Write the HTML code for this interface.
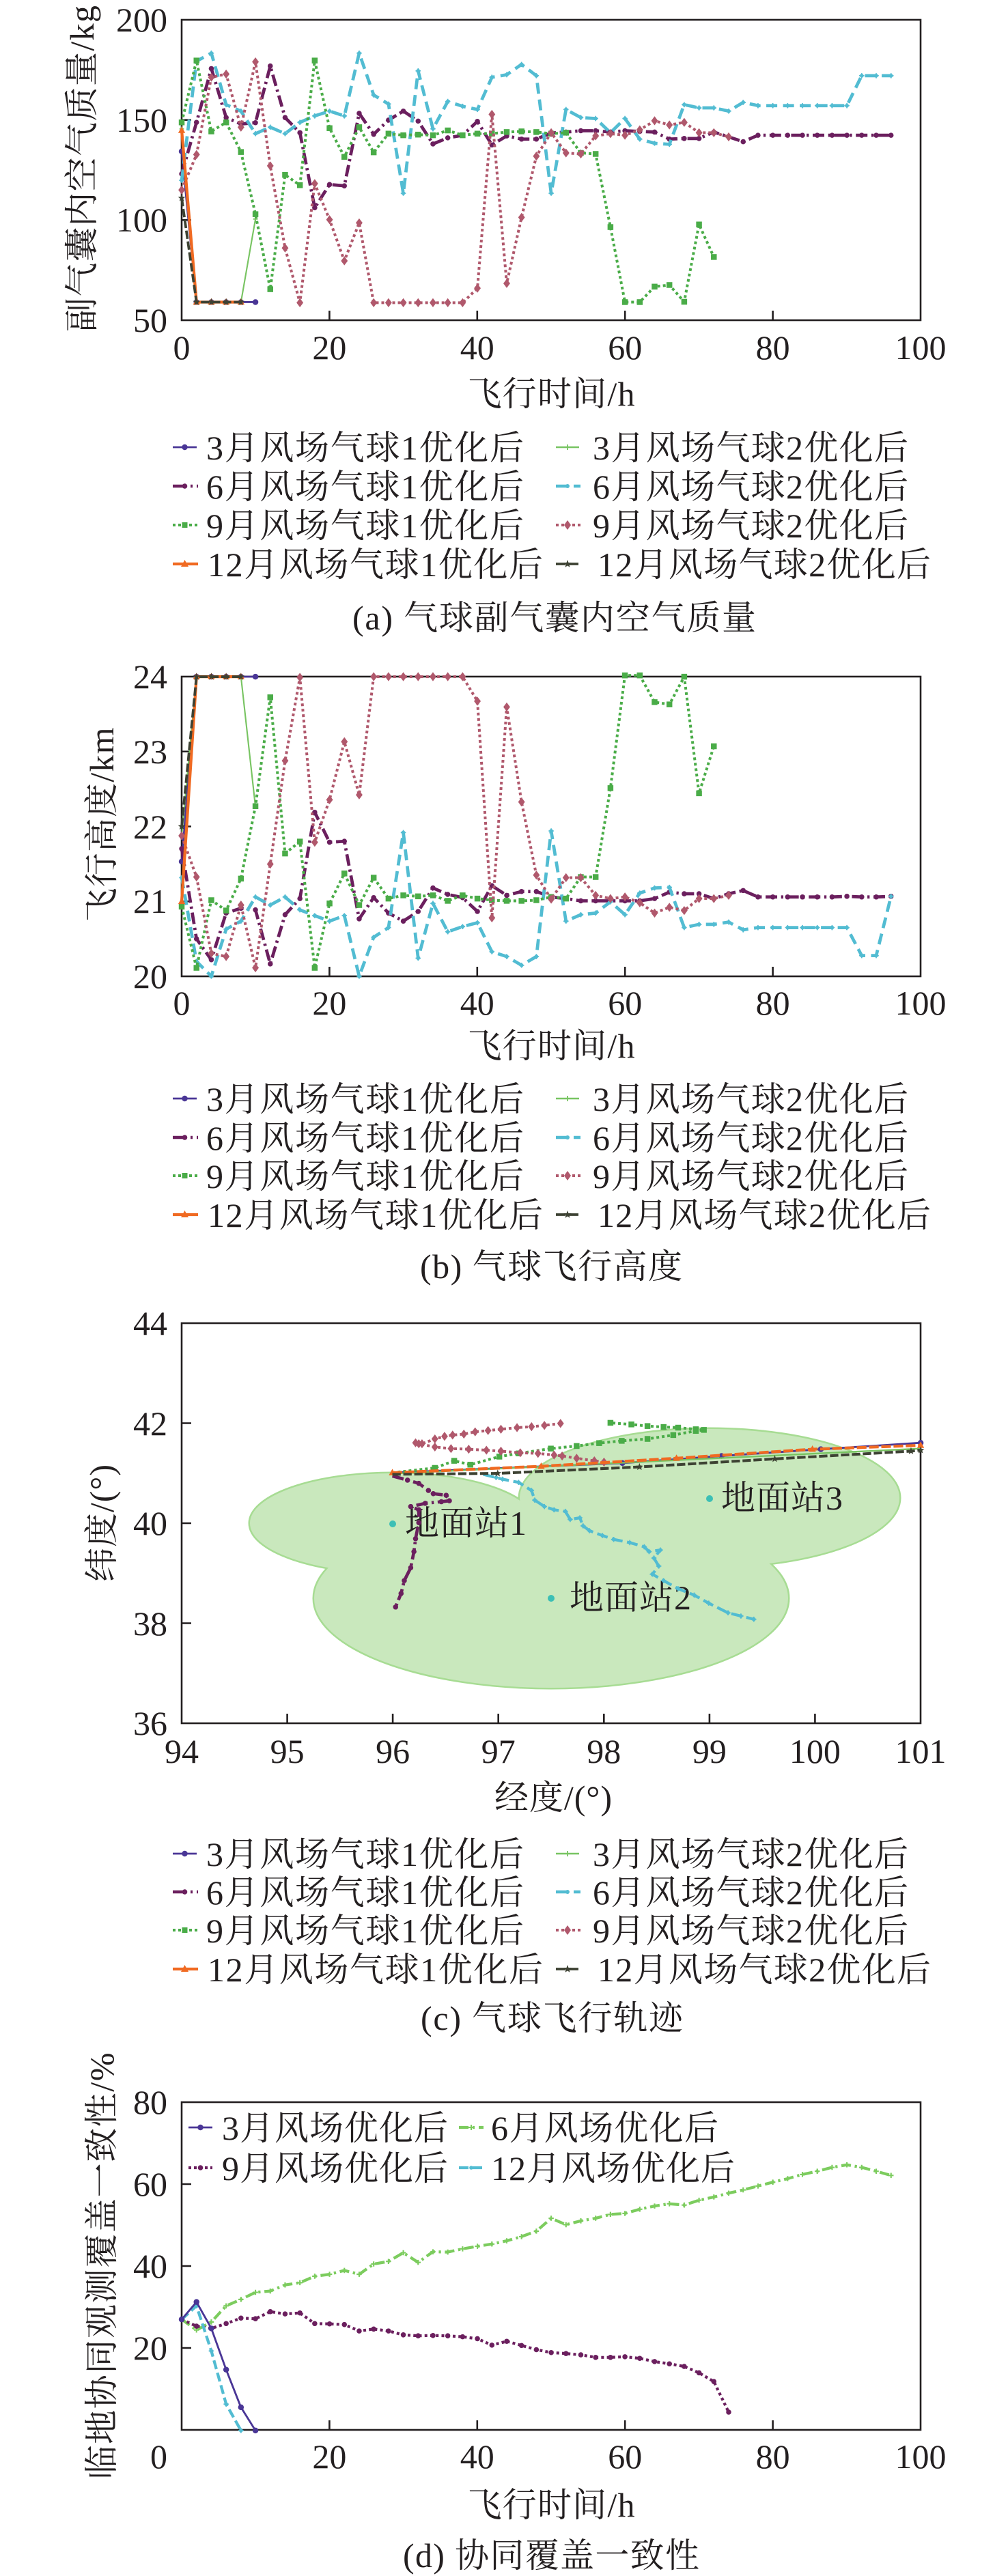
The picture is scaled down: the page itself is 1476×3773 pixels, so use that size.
<!DOCTYPE html>
<html><head><meta charset="utf-8"><style>
html,body{margin:0;padding:0;background:#fff;}
svg{display:block;}
text{font-family:"Liberation Serif","Noto Serif CJK SC",serif;font-size:50px;fill:#231f20;}
</style></head><body>
<svg width="1476" height="3773" viewBox="0 0 1476 3773" xmlns="http://www.w3.org/2000/svg">
<defs>
<marker id="mC1" markerUnits="userSpaceOnUse" markerWidth="24" markerHeight="24" refX="0" refY="0" viewBox="-12 -12 24 24" overflow="visible"><circle r="9" fill="#4a3696"/></marker>
<marker id="mP2" markerUnits="userSpaceOnUse" markerWidth="24" markerHeight="24" refX="0" refY="0" viewBox="-12 -12 24 24" overflow="visible"><path d="M-7 0H7M0 -7V7" stroke="#78c462" stroke-width="4"/></marker>
<marker id="mPd" markerUnits="userSpaceOnUse" markerWidth="24" markerHeight="24" refX="0" refY="0" viewBox="-12 -12 24 24" overflow="visible"><path d="M-8 0H8M0 -8V8" stroke="#7ccc5e" stroke-width="4.5"/></marker>
<marker id="mC6" markerUnits="userSpaceOnUse" markerWidth="24" markerHeight="24" refX="0" refY="0" viewBox="-12 -12 24 24" overflow="visible"><circle r="8" fill="#6b1f5e"/></marker>
<marker id="mA6" markerUnits="userSpaceOnUse" markerWidth="24" markerHeight="24" refX="0" refY="0" viewBox="-12 -12 24 24" overflow="visible"><circle r="6" fill="#52bcd2"/><path d="M-8 0H8M0 -8V8" stroke="#52bcd2" stroke-width="3.5"/></marker>
<marker id="mS9" markerUnits="userSpaceOnUse" markerWidth="24" markerHeight="24" refX="0" refY="0" viewBox="-12 -12 24 24" overflow="visible"><rect x="-9" y="-9" width="18" height="18" fill="#4aac48"/></marker>
<marker id="mD9" markerUnits="userSpaceOnUse" markerWidth="30" markerHeight="30" refX="0" refY="0" viewBox="-15 -15 30 30" overflow="visible"><path d="M0 -14L10.5 0L0 14L-10.5 0Z" fill="#b0586c"/></marker>
<marker id="mT12" markerUnits="userSpaceOnUse" markerWidth="30" markerHeight="30" refX="0" refY="0" viewBox="-15 -15 30 30" overflow="visible"><path d="M0 -12L11 8L-11 8Z" fill="#f06a22"/></marker>
<marker id="mSt" markerUnits="userSpaceOnUse" markerWidth="30" markerHeight="30" refX="0" refY="0" viewBox="-15 -15 30 30" overflow="visible"><path d="M0,-12 L2.94,-4.05 L11.41,-3.71 L4.76,1.55 L7.05,9.71 L0,5 L-7.05,9.71 L-4.76,1.55 L-11.41,-3.71 L-2.94,-4.05Z" fill="#3d4233"/></marker>
</defs>

<!-- ================= PANEL A ================= -->
<g stroke="#231f20" stroke-width="2.6" fill="none">
<rect x="266" y="29" width="1082" height="440"/>
<path d="M266 175.7H280M266 322.3H280M482.4 469V455M698.8 469V455M915.2 469V455M1131.6 469V455"/>
</g>
<g text-anchor="end">
<text x="245" y="46">200</text><text x="245" y="193">150</text><text x="245" y="339">100</text><text x="245" y="486">50</text>
</g>
<g text-anchor="middle">
<text x="266" y="526">0</text><text x="482.4" y="526">20</text><text x="698.8" y="526">40</text><text x="915.2" y="526">60</text><text x="1131.6" y="526">80</text><text x="1348" y="526">100</text>
<text x="807" y="594" textLength="245" lengthAdjust="spacing">飞行时间/h</text>
</g>
<text transform="translate(137,247) rotate(-90)" text-anchor="middle" textLength="478" lengthAdjust="spacing">副气囊内空气质量/kg</text>

<g transform="scale(0.4717)" fill="none" stroke-linejoin="round">
<polyline points="564,470 610,938 656,938 702,938 748,938 793,938" stroke="#4a3696" stroke-width="6" marker-start="url(#mC1)" marker-mid="url(#mC1)" marker-end="url(#mC1)"/>
<polyline points="564,400 610,938 656,938 702,938 748,938 793,680" stroke="#78c462" stroke-width="4.5" marker-start="url(#mP2)" marker-mid="url(#mP2)" marker-end="url(#mP2)"/>
<polyline points="564,540 610,380 656,213 702,365 748,385 793,381 839,205 885,365 931,412 977,645 1023,573 1069,577 1115,352 1160,417 1206,373 1252,345 1298,376 1344,447 1390,428 1436,420 1482,377 1527,450 1573,422 1619,432 1665,432 1711,413 1757,410 1803,406 1849,406 1895,410 1940,406 1986,408 2032,410 2078,432 2124,430 2170,430 2216,410 2262,425 2307,440 2353,420 2399,420 2445,420 2491,420 2537,420 2583,420 2629,420 2675,420 2720,420 2766,420" stroke="#6b1f5e" stroke-width="10" stroke-dasharray="36 12 7 12" marker-start="url(#mC6)" marker-mid="url(#mC6)" marker-end="url(#mC6)"/>
<polyline points="564,560 610,190 656,165 702,325 748,345 793,415 839,395 885,415 931,380 977,360 1023,345 1069,360 1115,165 1160,295 1206,323 1252,600 1298,220 1344,400 1390,315 1436,330 1482,340 1527,240 1573,232 1619,200 1665,235 1711,600 1757,340 1803,365 1849,368 1895,412 1940,368 1986,432 2032,445 2078,448 2124,325 2170,335 2216,335 2262,345 2307,318 2353,328 2399,328 2445,328 2491,328 2537,328 2583,328 2629,328 2675,235 2720,235 2766,235" stroke="#52bcd2" stroke-width="10" stroke-dasharray="34 18" marker-start="url(#mA6)" marker-mid="url(#mA6)" marker-end="url(#mA6)"/>
<polyline points="564,380 610,188 656,408 702,380 748,472 793,665 839,898 885,543 931,575 977,188 1023,398 1069,487 1115,395 1160,473 1206,415 1252,420 1298,418 1344,420 1390,405 1436,420 1482,415 1527,415 1573,410 1619,408 1665,410 1711,415 1757,412 1803,475 1849,478 1895,705 1940,938 1986,938 2032,890 2078,885 2124,937 2170,697 2216,798" stroke="#4aac48" stroke-width="8.5" stroke-dasharray="8.5 8.5" marker-start="url(#mS9)" marker-mid="url(#mS9)" marker-end="url(#mS9)"/>
<polyline points="564,590 610,480 656,240 702,230 748,395 793,192 839,515 885,770 931,940 977,570 1023,682 1069,810 1115,692 1160,940 1206,940 1252,940 1298,940 1344,940 1390,940 1436,940 1482,895 1527,355 1573,880 1619,675 1665,485 1711,412 1757,475 1803,478 1849,422 1895,415 1940,420 1986,403 2032,375 2078,388 2124,380 2170,412 2216,412 2262,425" stroke="#b0586c" stroke-width="8.5" stroke-dasharray="8.5 8.5" marker-start="url(#mD9)" marker-mid="url(#mD9)" marker-end="url(#mD9)"/>
<polyline points="564,405 610,938 656,938 702,938 748,938" stroke="#f06a22" stroke-width="9" marker-start="url(#mT12)" marker-mid="url(#mT12)" marker-end="url(#mT12)"/>
<polyline points="564,615 610,938 656,938 702,938 748,938" stroke="#3d4233" stroke-width="8" stroke-dasharray="26 8" marker-start="url(#mSt)" marker-mid="url(#mSt)" marker-end="url(#mSt)"/>
</g>

<!-- legend A -->
<g>
<line x1="253" x2="288" y1="655" y2="655" stroke="#4a3696" stroke-width="2.8"/><circle cx="270.5" cy="655" r="4.2" fill="#4a3696"/>
<line x1="814" x2="848" y1="655" y2="655" stroke="#78c462" stroke-width="2.4"/><path d="M827 655H835M831 651V659" stroke="#78c462" stroke-width="1.8"/>
<line x1="253" x2="290" y1="712" y2="712" stroke="#6b1f5e" stroke-width="4.5" stroke-dasharray="20 6 3 6"/><circle cx="270.5" cy="712" r="3.8" fill="#6b1f5e"/>
<line x1="814" x2="850" y1="712" y2="712" stroke="#52bcd2" stroke-width="4.5" stroke-dasharray="18 8"/><circle cx="831" cy="712" r="3" fill="#52bcd2"/>
<line x1="253" x2="290" y1="769" y2="769" stroke="#4aac48" stroke-width="4" stroke-dasharray="4 4"/><rect x="266.5" y="765" width="8" height="8" fill="#4aac48"/>
<line x1="814" x2="850" y1="769" y2="769" stroke="#b0586c" stroke-width="4" stroke-dasharray="4 4"/><path d="M831 762L836 769L831 776L826 769Z" fill="#b0586c"/>
<line x1="253" x2="290" y1="826" y2="826" stroke="#f06a22" stroke-width="4.2"/><path d="M270.5 820L276 830L265 830Z" fill="#f06a22"/>
<line x1="814" x2="850" y1="826" y2="826" stroke="#3d4233" stroke-width="3.8" stroke-dasharray="14 5"/><path transform="translate(831,826) scale(0.5)" d="M0,-12 L2.94,-4.05 L11.41,-3.71 L4.76,1.55 L7.05,9.71 L0,5 L-7.05,9.71 L-4.76,1.55 L-11.41,-3.71 L-2.94,-4.05Z" fill="#3d4233"/>
</g>
<text x="302" y="673" textLength="465" lengthAdjust="spacing">3月风场气球1优化后</text>
<text x="868" y="673" textLength="462" lengthAdjust="spacing">3月风场气球2优化后</text>
<text x="302" y="730" textLength="465" lengthAdjust="spacing">6月风场气球1优化后</text>
<text x="868" y="730" textLength="462" lengthAdjust="spacing">6月风场气球2优化后</text>
<text x="302" y="787" textLength="465" lengthAdjust="spacing">9月风场气球1优化后</text>
<text x="868" y="787" textLength="462" lengthAdjust="spacing">9月风场气球2优化后</text>
<text x="304" y="844" textLength="491" lengthAdjust="spacing">12月风场气球1优化后</text>
<text x="875" y="844" textLength="488" lengthAdjust="spacing">12月风场气球2优化后</text>
<text x="516" y="922" textLength="591" lengthAdjust="spacing">(a) 气球副气囊内空气质量</text>

<!-- ================= PANEL B ================= -->
<g stroke="#231f20" stroke-width="2.6" fill="none">
<rect x="266" y="991" width="1082" height="439"/>
<path d="M266 1100.75H280M266 1210.5H280M266 1320.25H280M482.4 1430V1416M698.8 1430V1416M915.2 1430V1416M1131.6 1430V1416"/>
</g>
<g text-anchor="end">
<text x="245" y="1008">24</text><text x="245" y="1118">23</text><text x="245" y="1228">22</text><text x="245" y="1337">21</text><text x="245" y="1447">20</text>
</g>
<g text-anchor="middle">
<text x="266" y="1486">0</text><text x="482.4" y="1486">20</text><text x="698.8" y="1486">40</text><text x="915.2" y="1486">60</text><text x="1131.6" y="1486">80</text><text x="1348" y="1486">100</text>
<text x="807" y="1549" textLength="245" lengthAdjust="spacing">飞行时间/h</text>
</g>
<text transform="translate(166,1208) rotate(-90)" text-anchor="middle" textLength="285" lengthAdjust="spacing">飞行高度/km</text>

<g transform="translate(0,960) scale(0.4717)" fill="none" stroke-linejoin="round">
<polyline points="564,640 610,66 656,66 702,66 748,66 793,66" stroke="#4a3696" stroke-width="6" marker-start="url(#mC1)" marker-mid="url(#mC1)" marker-end="url(#mC1)"/>
<polyline points="564,560 610,66 656,66 702,66 748,66 793,470" stroke="#78c462" stroke-width="4.5" marker-start="url(#mP2)" marker-mid="url(#mP2)" marker-end="url(#mP2)"/>
<polyline points="564,600 610,880 656,945 702,800 748,785 793,790 839,958 885,805 931,755 977,487 1023,580 1069,577 1115,818 1160,752 1206,800 1252,825 1298,795 1344,722 1390,742 1436,752 1482,795 1527,715 1573,745 1619,733 1665,733 1711,750 1757,755 1803,762 1849,762 1895,762 1940,762 1986,762 2032,755 2078,735 2124,740 2170,740 2216,755 2262,740 2307,730 2353,750 2399,750 2445,750 2491,750 2537,750 2583,750 2629,748 2675,750 2720,750 2766,748" stroke="#6b1f5e" stroke-width="10" stroke-dasharray="36 12 7 12" marker-start="url(#mC6)" marker-mid="url(#mC6)" marker-end="url(#mC6)"/>
<polyline points="564,690 610,950 656,996 702,850 748,825 793,750 839,775 885,750 931,790 977,808 1023,825 1069,808 1115,996 1160,875 1206,845 1252,550 1298,940 1344,770 1390,858 1436,842 1482,830 1527,920 1573,935 1619,962 1665,935 1711,545 1757,825 1803,805 1849,800 1895,765 1940,805 1986,738 2032,722 2078,720 2124,845 2170,835 2216,835 2262,828 2307,852 2353,845 2399,845 2445,845 2491,845 2537,845 2583,845 2629,845 2675,932 2720,932 2766,748" stroke="#52bcd2" stroke-width="10" stroke-dasharray="34 18" marker-start="url(#mA6)" marker-mid="url(#mA6)" marker-end="url(#mA6)"/>
<polyline points="564,780 610,970 656,760 702,792 748,693 793,468 839,130 885,615 931,578 977,970 1023,770 1069,677 1115,775 1160,690 1206,755 1252,745 1298,748 1344,745 1390,762 1436,745 1482,755 1527,760 1573,762 1619,762 1665,760 1711,750 1757,755 1803,688 1849,688 1895,412 1940,62 1986,62 2032,145 2078,152 2124,66 2170,428 2216,282" stroke="#4aac48" stroke-width="8.5" stroke-dasharray="8.5 8.5" marker-start="url(#mS9)" marker-mid="url(#mS9)" marker-end="url(#mS9)"/>
<polyline points="564,560 610,688 656,925 702,935 748,775 793,970 839,648 885,327 931,68 977,580 1023,448 1069,268 1115,433 1160,66 1206,66 1252,66 1298,66 1344,66 1390,66 1436,66 1482,142 1527,815 1573,160 1619,455 1665,682 1711,757 1757,690 1803,690 1849,745 1895,755 1940,750 1986,768 2032,800 2078,782 2124,792 2170,755 2216,755 2262,745" stroke="#b0586c" stroke-width="8.5" stroke-dasharray="8.5 8.5" marker-start="url(#mD9)" marker-mid="url(#mD9)" marker-end="url(#mD9)"/>
<polyline points="564,764 610,66 656,66 702,66 748,66" stroke="#f06a22" stroke-width="9" marker-start="url(#mT12)" marker-mid="url(#mT12)" marker-end="url(#mT12)"/>
<polyline points="564,531 610,66 656,66 702,66 748,66" stroke="#3d4233" stroke-width="8" stroke-dasharray="26 8" marker-start="url(#mSt)" marker-mid="url(#mSt)" marker-end="url(#mSt)"/>
</g>

<!-- legend B -->
<g>
<line x1="253" x2="288" y1="1609" y2="1609" stroke="#4a3696" stroke-width="2.8"/><circle cx="270.5" cy="1609" r="4.2" fill="#4a3696"/>
<line x1="814" x2="848" y1="1609" y2="1609" stroke="#78c462" stroke-width="2.4"/><path d="M827 1609H835M831 1605V1613" stroke="#78c462" stroke-width="1.8"/>
<line x1="253" x2="290" y1="1666" y2="1666" stroke="#6b1f5e" stroke-width="4.5" stroke-dasharray="20 6 3 6"/><circle cx="270.5" cy="1666" r="3.8" fill="#6b1f5e"/>
<line x1="814" x2="850" y1="1666" y2="1666" stroke="#52bcd2" stroke-width="4.5" stroke-dasharray="18 8"/><circle cx="831" cy="1666" r="3" fill="#52bcd2"/>
<line x1="253" x2="290" y1="1722" y2="1722" stroke="#4aac48" stroke-width="4" stroke-dasharray="4 4"/><rect x="266.5" y="1718" width="8" height="8" fill="#4aac48"/>
<line x1="814" x2="850" y1="1722" y2="1722" stroke="#b0586c" stroke-width="4" stroke-dasharray="4 4"/><path d="M831 1715L836 1722L831 1729L826 1722Z" fill="#b0586c"/>
<line x1="253" x2="290" y1="1779" y2="1779" stroke="#f06a22" stroke-width="4.2"/><path d="M270.5 1773L276 1783L265 1783Z" fill="#f06a22"/>
<line x1="814" x2="850" y1="1779" y2="1779" stroke="#3d4233" stroke-width="3.8" stroke-dasharray="14 5"/><path transform="translate(831,1779) scale(0.5)" d="M0,-12 L2.94,-4.05 L11.41,-3.71 L4.76,1.55 L7.05,9.71 L0,5 L-7.05,9.71 L-4.76,1.55 L-11.41,-3.71 L-2.94,-4.05Z" fill="#3d4233"/>
</g>
<text x="302" y="1627" textLength="465" lengthAdjust="spacing">3月风场气球1优化后</text>
<text x="868" y="1627" textLength="462" lengthAdjust="spacing">3月风场气球2优化后</text>
<text x="302" y="1684" textLength="465" lengthAdjust="spacing">6月风场气球1优化后</text>
<text x="868" y="1684" textLength="462" lengthAdjust="spacing">6月风场气球2优化后</text>
<text x="302" y="1740" textLength="465" lengthAdjust="spacing">9月风场气球1优化后</text>
<text x="868" y="1740" textLength="462" lengthAdjust="spacing">9月风场气球2优化后</text>
<text x="304" y="1797" textLength="491" lengthAdjust="spacing">12月风场气球1优化后</text>
<text x="875" y="1797" textLength="488" lengthAdjust="spacing">12月风场气球2优化后</text>
<text x="807" y="1872" text-anchor="middle" textLength="384" lengthAdjust="spacing">(b) 气球飞行高度</text>

<!-- ================= PANEL C ================= -->
<g stroke="#a7dc93" stroke-width="5" fill="#c9e8bd">
<ellipse cx="575" cy="2231" rx="209" ry="73"/>
<ellipse cx="807" cy="2341" rx="347" ry="131"/>
<ellipse cx="1039" cy="2194" rx="278" ry="101"/>
</g>
<g fill="#c9e8bd">
<ellipse cx="575" cy="2231" rx="209" ry="73"/>
<ellipse cx="807" cy="2341" rx="347" ry="131"/>
<ellipse cx="1039" cy="2194" rx="278" ry="101"/>
</g>
<g stroke="#231f20" stroke-width="2.6" fill="none">
<rect x="266" y="1938" width="1082" height="586"/>
<path d="M266 2084.5H280M266 2231H280M266 2377.5H280M420.6 2524V2510M575.1 2524V2510M729.7 2524V2510M884.3 2524V2510M1038.9 2524V2510M1193.4 2524V2510"/>
</g>
<g text-anchor="end">
<text x="245" y="1955">44</text><text x="245" y="2102">42</text><text x="245" y="2248">40</text><text x="245" y="2395">38</text><text x="245" y="2541">36</text>
</g>
<g text-anchor="middle">
<text x="266" y="2582">94</text><text x="420.6" y="2582">95</text><text x="575.1" y="2582">96</text><text x="729.7" y="2582">97</text><text x="884.3" y="2582">98</text><text x="1038.9" y="2582">99</text><text x="1193.4" y="2582">100</text><text x="1348" y="2582">101</text>
<text x="810" y="2650" textLength="172" lengthAdjust="spacing">经度/(°)</text>
</g>
<text transform="translate(166,2231) rotate(-90)" text-anchor="middle" textLength="172" lengthAdjust="spacing">纬度/(°)</text>

<g fill="#3cbfb5"><circle cx="575" cy="2232" r="5"/><circle cx="807" cy="2341" r="5"/><circle cx="1039" cy="2195" r="5"/></g>
<text x="593" y="2248" textLength="178" lengthAdjust="spacing">地面站1</text>
<text x="834" y="2357" textLength="178" lengthAdjust="spacing">地面站2</text>
<text x="1056" y="2211" textLength="178" lengthAdjust="spacing">地面站3</text>

<g transform="translate(0,1900) scale(0.4717)" fill="none" stroke-linejoin="round">
<polyline points="1218,545 1932,515 2240,493 2548,472 2858,452" stroke="#4a3696" stroke-width="6" marker-mid="url(#mC1)" marker-end="url(#mC1)"/>
<polyline points="1218,548 2858,470" stroke="#78c462" stroke-width="5"/>
<polyline points="1218,555 1265,568 1300,578 1330,600 1345,610 1385,615 1395,632 1370,635 1320,640 1275,650 1300,660 1300,700 1290,750 1285,790 1275,840 1255,880 1245,920 1228,962" stroke="#6b1f5e" stroke-width="10" stroke-dasharray="36 12 7 12" marker-mid="url(#mC6)" marker-end="url(#mC6)"/>
<polyline points="1500,550 1540,560 1560,565 1610,575 1650,600 1660,630 1690,650 1720,660 1755,665 1770,690 1800,685 1810,710 1830,725 1870,740 1905,752 1955,762 2000,775 2015,790 2050,785 2030,810 2045,835 2025,860 2060,880 2105,905 2155,925 2200,950 2260,980 2300,990 2340,1000" stroke="#52bcd2" stroke-width="9" stroke-dasharray="34 14" marker-mid="url(#mA6)" marker-end="url(#mA6)"/>
<polyline points="1218,545 1350,530 1410,508 1460,520 1550,495 1610,485 1710,470 1790,462 1860,453 1930,446 2010,440 2090,428 2160,415 2185,412 2160,410 2105,405 2060,403 2010,400 1960,395 1895,390" stroke="#4aac48" stroke-width="8.5" stroke-dasharray="8.5 8.5" marker-mid="url(#mS9)" marker-end="url(#mS9)"/>
<polyline points="1740,392 1690,398 1650,402 1605,405 1555,410 1515,414 1475,418 1440,425 1405,428 1380,432 1350,440 1310,455 1290,452 1300,455 1350,465 1400,470 1455,472 1510,475 1555,478 1615,483 1670,485 1720,490 1745,493 1790,500 1845,508 1875,512" stroke="#b0586c" stroke-width="8.5" stroke-dasharray="8.5 8.5" marker-start="url(#mD9)" marker-mid="url(#mD9)" marker-end="url(#mD9)"/>
<polyline points="1218,545 1680,525 2100,500 2522,472 2858,460" stroke="#f06a22" stroke-width="9" stroke-dasharray="30 8" marker-start="url(#mT12)" marker-mid="url(#mT12)" marker-end="url(#mT12)"/>
<polyline points="1218,550 1545,547 1985,527 2405,502 2828,478 2858,475" stroke="#3d4233" stroke-width="8.5" stroke-dasharray="26 8" marker-mid="url(#mSt)" marker-end="url(#mSt)"/>
</g>

<!-- legend C -->
<g>
<line x1="253" x2="288" y1="2715" y2="2715" stroke="#4a3696" stroke-width="2.8"/><circle cx="270.5" cy="2715" r="4.2" fill="#4a3696"/>
<line x1="814" x2="848" y1="2715" y2="2715" stroke="#78c462" stroke-width="2.4"/><path d="M827 2715H835M831 2711V2719" stroke="#78c462" stroke-width="1.8"/>
<line x1="253" x2="290" y1="2771" y2="2771" stroke="#6b1f5e" stroke-width="4.5" stroke-dasharray="20 6 3 6"/><circle cx="270.5" cy="2771" r="3.8" fill="#6b1f5e"/>
<line x1="814" x2="850" y1="2771" y2="2771" stroke="#52bcd2" stroke-width="4.5" stroke-dasharray="18 8"/><circle cx="831" cy="2771" r="3" fill="#52bcd2"/>
<line x1="253" x2="290" y1="2827" y2="2827" stroke="#4aac48" stroke-width="4" stroke-dasharray="4 4"/><rect x="266.5" y="2823" width="8" height="8" fill="#4aac48"/>
<line x1="814" x2="850" y1="2827" y2="2827" stroke="#b0586c" stroke-width="4" stroke-dasharray="4 4"/><path d="M831 2820L836 2827L831 2834L826 2827Z" fill="#b0586c"/>
<line x1="253" x2="290" y1="2884" y2="2884" stroke="#f06a22" stroke-width="4.2"/><path d="M270.5 2878L276 2888L265 2888Z" fill="#f06a22"/>
<line x1="814" x2="850" y1="2884" y2="2884" stroke="#3d4233" stroke-width="3.8" stroke-dasharray="14 5"/><path transform="translate(831,2884) scale(0.5)" d="M0,-12 L2.94,-4.05 L11.41,-3.71 L4.76,1.55 L7.05,9.71 L0,5 L-7.05,9.71 L-4.76,1.55 L-11.41,-3.71 L-2.94,-4.05Z" fill="#3d4233"/>
</g>
<text x="302" y="2733" textLength="465" lengthAdjust="spacing">3月风场气球1优化后</text>
<text x="868" y="2733" textLength="462" lengthAdjust="spacing">3月风场气球2优化后</text>
<text x="302" y="2789" textLength="465" lengthAdjust="spacing">6月风场气球1优化后</text>
<text x="868" y="2789" textLength="462" lengthAdjust="spacing">6月风场气球2优化后</text>
<text x="302" y="2845" textLength="465" lengthAdjust="spacing">9月风场气球1优化后</text>
<text x="868" y="2845" textLength="462" lengthAdjust="spacing">9月风场气球2优化后</text>
<text x="304" y="2902" textLength="491" lengthAdjust="spacing">12月风场气球1优化后</text>
<text x="875" y="2902" textLength="488" lengthAdjust="spacing">12月风场气球2优化后</text>
<text x="616" y="2973" textLength="384" lengthAdjust="spacing">(c) 气球飞行轨迹</text>

<!-- ================= PANEL D ================= -->
<g stroke="#231f20" stroke-width="2.6" fill="none">
<rect x="266" y="3079" width="1082" height="480"/>
<path d="M266 3199H280M266 3319H280M266 3439H280M482.4 3559V3545M698.8 3559V3545M915.2 3559V3545M1131.6 3559V3545"/>
</g>
<g text-anchor="end">
<text x="245" y="3096">80</text><text x="245" y="3216">60</text><text x="245" y="3336">40</text><text x="245" y="3456">20</text><text x="245" y="3615">0</text>
</g>
<g text-anchor="middle">
<text x="482.4" y="3615">20</text><text x="698.8" y="3615">40</text><text x="915.2" y="3615">60</text><text x="1131.6" y="3615">80</text><text x="1348" y="3615">100</text>
<text x="807" y="3686" textLength="245" lengthAdjust="spacing">飞行时间/h</text>
</g>
<text transform="translate(166,3319) rotate(-90)" text-anchor="middle" textLength="625" lengthAdjust="spacing">临地协同观测覆盖一致性/%</text>

<g transform="translate(0,3033) scale(0.4717)" fill="none" stroke-linejoin="round">
<polyline points="564,772 610,805 656,780 702,730 748,710 793,688 839,684 885,665 931,658 977,638 1023,632 1069,620 1115,632 1160,600 1206,592 1252,565 1298,595 1344,562 1390,563 1436,553 1482,545 1527,538 1573,528 1619,515 1665,498 1711,458 1757,478 1803,466 1849,458 1895,446 1940,443 1986,430 2032,420 2078,413 2124,417 2170,402 2216,392 2262,380 2307,370 2353,358 2399,346 2445,335 2491,322 2537,312 2583,300 2629,292 2675,300 2720,312 2766,325" stroke="#7ccc5e" stroke-width="9" stroke-dasharray="30 12 7 12" marker-mid="url(#mPd)" marker-end="url(#mPd)"/>
<polyline points="564,772 610,793 656,800 702,785 748,768 793,770 839,748 885,755 931,752 977,785 1023,786 1069,788 1115,808 1160,802 1206,808 1252,820 1298,823 1344,822 1390,823 1436,826 1482,832 1527,852 1573,840 1619,853 1665,866 1711,875 1757,878 1803,882 1849,890 1895,890 1940,888 1986,893 2032,903 2078,910 2124,918 2170,938 2216,965 2262,1060" stroke="#6b1f5e" stroke-width="9" stroke-dasharray="8.5 9" marker-mid="url(#mC6)" marker-end="url(#mC6)"/>
<polyline points="564,772 610,730 656,870 702,1035 748,1117" stroke="#52bcd2" stroke-width="9" stroke-dasharray="28 12" marker-mid="url(#mA6)" marker-end="url(#mA6)"/>
<polyline points="564,772 610,718 656,800 702,928 748,1045 793,1117" stroke="#4a3696" stroke-width="6" marker-start="url(#mC1)" marker-mid="url(#mC1)" marker-end="url(#mC1)"/>
</g>

<!-- legend D -->
<g>
<line x1="276" x2="311" y1="3116" y2="3116" stroke="#4a3696" stroke-width="2.8"/><circle cx="293.5" cy="3116" r="4.2" fill="#4a3696"/>
<line x1="276" x2="311" y1="3175" y2="3175" stroke="#6b1f5e" stroke-width="4.2" stroke-dasharray="4 4"/><circle cx="293.5" cy="3175" r="3.8" fill="#6b1f5e"/>
<line x1="672" x2="708" y1="3116" y2="3116" stroke="#7ccc5e" stroke-width="4.2" stroke-dasharray="14 6 3 6"/><path d="M686 3116H694M690 3112V3120" stroke="#7ccc5e" stroke-width="2"/>
<line x1="672" x2="708" y1="3175" y2="3175" stroke="#52bcd2" stroke-width="4.2" stroke-dasharray="14 6"/><circle cx="690" cy="3175" r="2.8" fill="#52bcd2"/>
</g>
<text x="325" y="3134" textLength="331" lengthAdjust="spacing">3月风场优化后</text>
<text x="325" y="3193" textLength="331" lengthAdjust="spacing">9月风场优化后</text>
<text x="719" y="3134" textLength="333" lengthAdjust="spacing">6月风场优化后</text>
<text x="719" y="3193" textLength="357" lengthAdjust="spacing">12月风场优化后</text>
<text x="590" y="3760" textLength="434" lengthAdjust="spacing">(d) 协同覆盖一致性</text>
</svg>
</body></html>
